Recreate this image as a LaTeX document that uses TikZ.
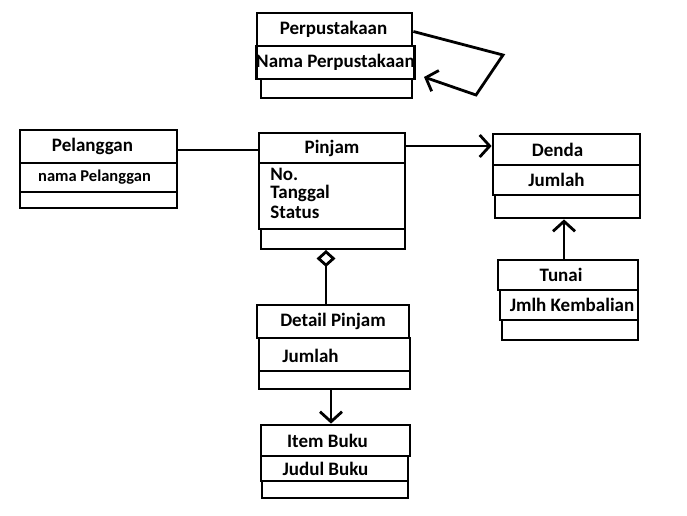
\documentclass[tikz,border=0pt]{standalone}
\usepackage{fontspec}
\setmainfont{Carlito}
\usetikzlibrary{arrows.meta}
\newcommand{\lsh}[1]{\hspace*{#1}}
\tikzset{
  box/.style={draw, line width=2.8pt, inner sep=0pt, font=\fontsize{19}{21}\selectfont\bfseries},
  conn/.style={line width=2.8pt},
  barb/.style={-{Straight Barb[length=10pt,width=22pt]}}
}
\begin{document}
\begin{tikzpicture}[x=1pt,y=-1pt]
\useasboundingbox (0,0) rectangle (687,515);
% Perpustakaan
\node[box, minimum width=155pt, minimum height=33pt] (perT) at (334.5,29.5) {Perpustakaan\lsh{2pt}};
\node[box, minimum width=153pt, minimum height=33pt] (perA) at (335.5,62.5) {Nama Perpustakaan};
\node[box, minimum width=151pt, minimum height=19pt] (perB) at (336.5,88.5) {};
% Pelanggan
\node[box, minimum width=157pt, minimum height=33pt] (pelT) at (98.5,146.5) {Pelanggan\lsh{12pt}};
\node[box, minimum width=157pt, minimum height=29pt, font=\fontsize{16.5}{18}\selectfont\bfseries] (pelA) at (98.5,177.5) {nama Pelanggan\lsh{8pt}};
\node[box, minimum width=157pt, minimum height=16pt] (pelB) at (98.5,200) {};
% Pinjam
\node[box, minimum width=146pt, minimum height=30pt] (pinT) at (332,148) {Pinjam};
\node[box, minimum width=146pt, minimum height=66pt] (pinA) at (332,196) {};
\node[box, draw=none, anchor=north west, align=left, font=\fontsize{19}{18}\selectfont\bfseries] (pinTx) at (269,167) {No.\\Tanggal\\[2pt]Status};
\node[box, minimum width=144pt, minimum height=20pt] (pinB) at (333,239) {};
% Denda
\node[box, minimum width=147pt, minimum height=31pt] (denT) at (566.5,149.5) {Denda\lsh{18pt}};
\node[box, minimum width=147pt, minimum height=30pt] (denA) at (566.5,180) {Jumlah\lsh{20pt}};
\node[box, minimum width=145pt, minimum height=23pt] (denB) at (567.5,206.5) {};
% Tunai
\node[box, minimum width=140pt, minimum height=30pt] (tunT) at (568,275) {Tunai\lsh{14pt}};
\node[box, minimum width=138pt, minimum height=30pt] (tunA) at (569,305) {\lsh{6pt}Jmlh Kembalian};
\node[box, minimum width=136pt, minimum height=20pt] (tunB) at (570,330) {};
% Detail Pinjam
\node[box, minimum width=152pt, minimum height=33pt] (detT) at (333,321.5) {Detail Pinjam};
\node[box, minimum width=151pt, minimum height=33pt] (detA) at (334.5,354.5) {};
\node[box, draw=none, anchor=west] (detTx) at (281,356) {Jumlah};
\node[box, minimum width=151pt, minimum height=18pt] (detB) at (334.5,380) {};
% Item Buku
\node[box, minimum width=149pt, minimum height=31pt] (itmT) at (335.5,440.5) {Item Buku\lsh{16pt}};
\node[box, minimum width=147pt, minimum height=25pt] (itmA) at (334.5,468.5) {Judul Buku\lsh{18pt}};
\node[box, minimum width=146pt, minimum height=17pt] (itmB) at (335,489.5) {};
% connectors
\coordinate (pelR) at (177,150);
\draw[conn] (pelR) -- (pelR -| pinT.west);
\coordinate (pinR) at (405,146);
\draw[conn, barb] (pinR) -- (pinR -| denT.west);
\coordinate (loop1) at (503,55);
\coordinate (loop2) at (476,95);
\coordinate (loopEnd) at (424,77);
\draw[conn, barb] ([yshift=-2pt]perT.east) -- (loop1) -- (loop2) -- (loopEnd);
\coordinate (tunTop) at (564,260);
\draw[conn, barb] (tunTop) -- (tunTop |- denB.south);
\coordinate (dtop) at (326,250);
\draw[conn, {Diamond[open,length=17pt,width=19pt]}-] (dtop) -- (dtop |- detT.north);
\coordinate (dbot) at (331,389);
\draw[conn, barb] (dbot) -- (dbot |- itmT.north);
\end{tikzpicture}
\end{document}
